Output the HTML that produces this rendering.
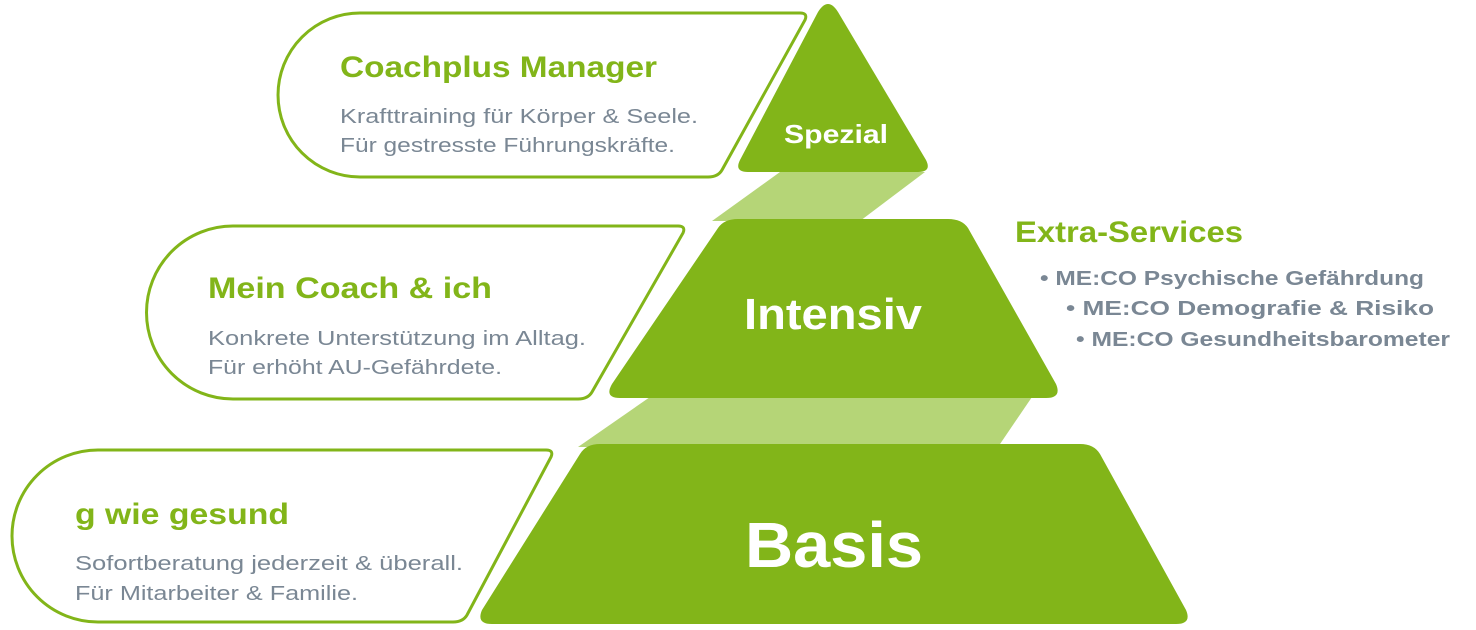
<!DOCTYPE html>
<html><head><meta charset="utf-8"><style>
html,body{margin:0;padding:0;background:#fff;width:1476px;height:630px;overflow:hidden}
text{font-family:"Liberation Sans","DejaVu Sans",sans-serif}
</style></head><body>
<svg width="1476" height="630" viewBox="0 0 1476 630" xmlns="http://www.w3.org/2000/svg">
<!-- light bands -->
<polygon points="780,172 925,172 860,221 712,221" fill="#b5d577"/>
<polygon points="650,397 1032,397 998,447 578,447" fill="#b5d577"/>
<!-- pyramid -->
<path d="M818,12 Q828,-4 838,12 L926,160 Q932,172 918,172 L748,172 Q734,172 740,160 Z" fill="#82b519"/>
<path d="M718,228 Q724,219 738,219 L948,219 Q962,219 968,228 L1056,384 Q1062,398 1046,398 L620,398 Q604,398 612,384 Z" fill="#82b519"/>
<path d="M580,454 Q586,444 600,444 L1080,444 Q1094,444 1100,454 L1186,610 Q1192,624 1176,624 L492,624 Q476,624 482,610 Z" fill="#82b519"/>
<!-- callouts -->
<g fill="none" stroke="#82b519" stroke-width="3">
<path d="M360,13 L800,13 Q808,13 805,20 L722,170 Q718,177 708,177 L360,177 A82,82 0 0 1 360,13 Z"/>
<path d="M233,226 L678,226 Q686,226 683,233 L592,392 Q588,399 578,399 L233,399 A86,86 0 0 1 233,226 Z"/>
<path d="M98,450 L546,450 Q554,450 551,457 L467,615 Q463,622 453,622 L98,622 A86,86 0 0 1 98,450 Z"/>
</g>
<!-- callout text -->
<g fill="#82b519" font-size="30" font-weight="bold">
<text x="340" y="77" textLength="317" lengthAdjust="spacingAndGlyphs">Coachplus Manager</text>
<text x="208" y="298" textLength="284" lengthAdjust="spacingAndGlyphs">Mein Coach &amp; ich</text>
<text x="75" y="524" textLength="214" lengthAdjust="spacingAndGlyphs">g wie gesund</text>
<text x="1015" y="242" textLength="228" lengthAdjust="spacingAndGlyphs">Extra-Services</text>
</g>
<g fill="#7a8794" font-size="20">
<text x="340" y="123" textLength="358" lengthAdjust="spacingAndGlyphs">Krafttraining für Körper &amp; Seele.</text>
<text x="340" y="152" textLength="335" lengthAdjust="spacingAndGlyphs">Für gestresste Führungskräfte.</text>
<text x="208" y="345" textLength="378" lengthAdjust="spacingAndGlyphs">Konkrete Unterstützung im Alltag.</text>
<text x="208" y="374" textLength="294" lengthAdjust="spacingAndGlyphs">Für erhöht AU-Gefährdete.</text>
<text x="75" y="570" textLength="388" lengthAdjust="spacingAndGlyphs">Sofortberatung jederzeit &amp; überall.</text>
<text x="75" y="600" textLength="283" lengthAdjust="spacingAndGlyphs">Für Mitarbeiter &amp; Familie.</text>
</g>
<g fill="#7a8794" font-size="20" font-weight="bold">
<text x="1040" y="285" textLength="384" lengthAdjust="spacingAndGlyphs">• ME:CO Psychische Gefährdung</text>
<text x="1066" y="315" textLength="368" lengthAdjust="spacingAndGlyphs">• ME:CO Demografie &amp; Risiko</text>
<text x="1076" y="346" textLength="374" lengthAdjust="spacingAndGlyphs">• ME:CO Gesundheitsbarometer</text>
</g>
<!-- pyramid labels -->
<g fill="#fff" font-weight="bold">
<text x="784" y="143" font-size="26" textLength="104" lengthAdjust="spacingAndGlyphs">Spezial</text>
<text x="744" y="329" font-size="44" textLength="178" lengthAdjust="spacingAndGlyphs">Intensiv</text>
<text x="745" y="567" font-size="64" textLength="178" lengthAdjust="spacingAndGlyphs">Basis</text>
</g>
</svg>
</body></html>
